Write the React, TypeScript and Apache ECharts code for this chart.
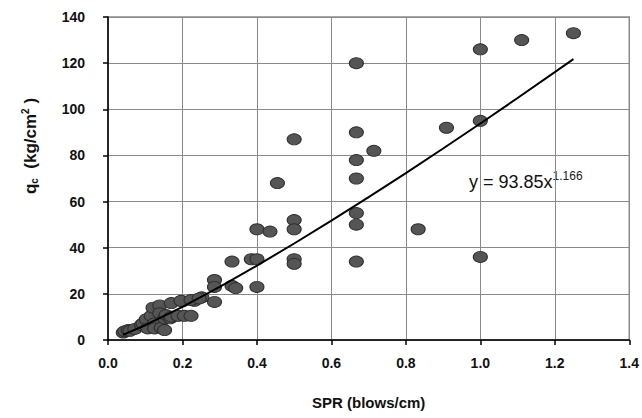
import React, { useEffect, useRef } from "react";
import * as echarts from "echarts";

const spr = [
  1.25, 1.111, 1.0, 0.667, 1.0, 0.909, 0.667, 0.5, 0.714, 0.667, 0.667, 0.455,
  0.667, 0.5, 0.667, 0.5, 0.4, 0.435, 0.833, 1.0, 0.5, 0.5, 0.667, 0.385, 0.4,
  0.333, 0.4, 0.333, 0.343, 0.286, 0.286, 0.286, 0.252, 0.232, 0.2,
  0.041, 0.045, 0.054, 0.059, 0.072, 0.09, 0.094, 0.103, 0.107, 0.116, 0.121,
  0.125, 0.125, 0.139, 0.139, 0.143, 0.152, 0.152, 0.156, 0.167, 0.17, 0.17,
  0.188, 0.196, 0.205, 0.223, 0.223, 0.245,
];
const qc = [
  133, 130, 126, 120, 95, 92, 90, 87, 82, 78, 70, 68,
  55, 52, 50, 48, 48, 47, 48, 36, 35, 33, 34, 35, 35,
  34, 23, 23.5, 22.5, 26, 23, 16.5, 18.5, 17, 16.8,
  3.2, 3.8, 4.3, 4, 4.8, 6.5, 7.2, 9, 5, 10.5, 14,
  7.2, 5, 15, 11.6, 5.3, 4.3, 9.4, 10.8, 9.4, 16, 10.1,
  10.5, 17, 10.5, 17.3, 10.5, 18,
];

const xTicks = ["0.0", "0.2", "0.4", "0.6", "0.8", "1.0", "1.2", "1.4"];
const yTicks = ["0", "20", "40", "60", "80", "100", "120", "140"];

// Power trendline shown on the chart: y = 93.85 x^1.166
const trendA = 93.85;
const trendB = 1.166;
const trendX = [0.04, 0.1, 0.2, 0.3, 0.4, 0.5, 0.6, 0.7, 0.8, 0.9, 1.0, 1.1, 1.2, 1.25];

const FONT = "'Liberation Sans', Arial, sans-serif";

export default function App() {
  const ref = useRef<HTMLDivElement>(null);
  useEffect(() => {
    if (!ref.current) return;
    const chart = echarts.init(ref.current, null, { renderer: "svg" });
    const points = spr.map((x, i) => [x, qc[i]]);
    const trend = trendX.map((x) => [x, trendA * Math.pow(x, trendB)]);
    chart.setOption({
      animation: false,
      backgroundColor: "#ffffff",
      grid: {
        left: 108,
        right: 9,
        top: 17,
        bottom: 78,
        show: true,
        borderColor: "#8a8a8a",
        borderWidth: 1.5,
      },
      xAxis: {
        type: "value",
        min: 0,
        max: 1.4,
        interval: 0.2,
        axisLine: { show: true, onZero: false, lineStyle: { color: "#000", width: 1.5 } },
        axisTick: { show: true, length: 5, lineStyle: { color: "#000", width: 1.5 } },
        splitLine: { show: true, lineStyle: { color: "#8a8a8a", width: 1 } },
        axisLabel: {
          margin: 16,
          fontFamily: FONT,
          fontWeight: "bold",
          fontSize: 14,
          color: "#111",
          formatter: (v: number) => xTicks[Math.round(v / 0.2)] ?? "",
        },
        name: "SPR (blows/cm)",
        nameLocation: "middle",
        nameGap: 55,
        nameTextStyle: { fontFamily: FONT, fontWeight: "bold", fontSize: 15, color: "#111" },
      },
      yAxis: {
        type: "value",
        min: 0,
        max: 140,
        interval: 20,
        axisLine: { show: true, onZero: false, lineStyle: { color: "#000", width: 1.5 } },
        axisTick: { show: true, length: 5, lineStyle: { color: "#000", width: 1.5 } },
        splitLine: { show: true, lineStyle: { color: "#8a8a8a", width: 1 } },
        axisLabel: {
          margin: 23,
          fontFamily: FONT,
          fontWeight: "bold",
          fontSize: 14,
          color: "#111",
          formatter: (v: number) => yTicks[Math.round(v / 20)] ?? "",
        },
      },
      graphic: [
        {
          type: "text",
          x: 30,
          y: 146,
          rotation: Math.PI / 2,
          style: {
            text: "{b|q}{s|c}{b|  (kg/cm}{p|2}{b| )}",
            align: "center",
            verticalAlign: "middle",
            fill: "#111",
            rich: {
              b: { fontFamily: FONT, fontWeight: "bold", fontSize: 17, fill: "#111", color: "#111" },
              s: { fontFamily: FONT, fontWeight: "bold", fontSize: 10, fill: "#111", color: "#111", padding: [9, 0, 0, 0] },
              p: { fontFamily: FONT, fontWeight: "bold", fontSize: 10, fill: "#111", color: "#111", padding: [0, 0, 9, 0] },
            },
          },
        },
        {
          type: "text",
          x: 469,
          y: 182,
          style: {
            text: "{n|y = 93.85x}{p|1.166}",
            verticalAlign: "middle",
            fill: "#111",
            rich: {
              n: { fontFamily: FONT, fontSize: 18, fill: "#111", color: "#111" },
              p: { fontFamily: FONT, fontSize: 12, fill: "#222", color: "#222", padding: [0, 0, 12, 0] },
            },
          },
        },
      ],
      series: [
        {
          type: "scatter",
          data: points,
          symbol: "circle",
          symbolSize: [14, 11],
          itemStyle: { color: "#555555", borderColor: "#2e2e2e", borderWidth: 1, opacity: 1 },
          z: 2,
        },
        {
          type: "line",
          data: trend,
          smooth: false,
          showSymbol: false,
          symbol: "none",
          lineStyle: { color: "#000", width: 2 },
          z: 3,
        },
      ],
    });
    return () => chart.dispose();
  }, []);
  return (
    <div
      ref={ref}
      style={{ position: "absolute", left: 0, top: 0, width: 642, height: 418 }}
    />
  );
}
